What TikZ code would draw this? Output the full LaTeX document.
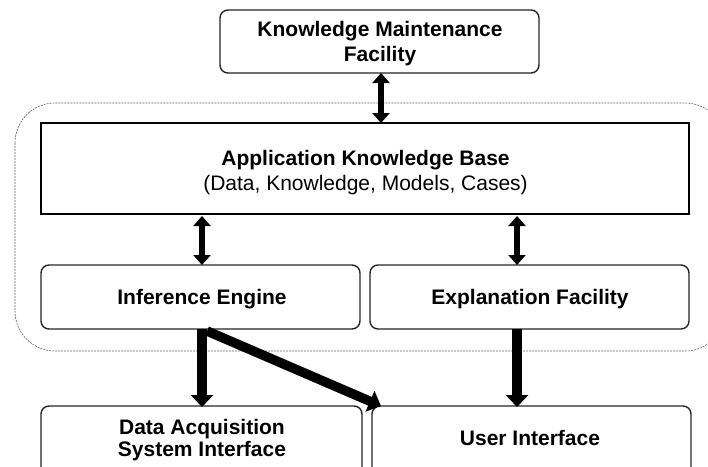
\documentclass[tikz,border=0pt]{standalone}
\usepackage{fontspec}
\setmainfont{Liberation Sans}
\usetikzlibrary{arrows.meta,calc}
\begin{document}
\begin{tikzpicture}[x=1pt,y=-1pt,
  rbox/.style={draw=black!85,line width=1.4pt,rounded corners=8pt,fill=white},
  sbox/.style={draw=black,line width=2pt,fill=white},
  lbl/.style={font=\fontsize{21}{25.5}\selectfont\bfseries,align=center,inner sep=0pt},
  dbl/.style={line width=6pt,{Triangle[width=17pt,length=10pt]}-{Triangle[width=17pt,length=10pt]}},
  fat/.style={line width=9.5pt,-{Triangle[width=22pt,length=12pt]}}]
\useasboundingbox (0,0) rectangle (708,466);
\clip (0,0) rectangle (708,466);
% dashed region
\draw[dashed,dash pattern=on 2pt off 1pt,line width=0.6pt,black!60,rounded corners=40pt] (15,103) rectangle (725,351);
% boxes
\draw[rbox] (220,10) rectangle (539,73);
\node[lbl] (kmf) at (380,43.4) {Knowledge Maintenance\\Facility};
\coordinate (kmfb) at (381,73);
\draw[sbox] (41,123) rectangle (689,214);
\node[lbl,font=\fontsize{21}{25}\selectfont\bfseries] (akb) at (365.5,173) {Application Knowledge Base\\\mdseries(Data, Knowledge, Models, Cases)};
\coordinate (akbt) at (381,123);
\coordinate (akbl) at (202,216);
\coordinate (akbr) at (517,216);
\draw[rbox] (41,265) rectangle (360,329);
\node[lbl] (ie) at (202,299.5) {Inference Engine};
\draw[rbox] (370,265) rectangle (689,329);
\node[lbl] (ef) at (530,299.5) {Explanation Facility};
\coordinate (iet) at (202,265);
\coordinate (eft) at (517,265);
\coordinate (ieb) at (202,329);
\coordinate (ieb2) at (207,331);
\coordinate (efb) at (517,329);
\draw[rbox] (41,406) rectangle (362,480);
\node[lbl,font=\fontsize{21}{22}\selectfont\bfseries] (dasi) at (202,440.5) {Data Acquisition\\System Interface};
\draw[rbox] (372,406) rectangle (691,480);
\node[lbl] (ui) at (530,438) {User Interface};
\coordinate (dasit) at (202,407);
\coordinate (uit) at (517,407);
\coordinate (uicorner) at (381,406);
% arrows
\draw[dbl] (kmfb) -- (akbt);
\draw[dbl] (akbl) -- (iet);
\draw[dbl] (akbr) -- (eft);
\draw[fat] (ieb) -- (dasit);
\draw[fat] (ieb2) -- (uicorner);
\draw[fat] (efb) -- (uit);
\end{tikzpicture}
\end{document}
